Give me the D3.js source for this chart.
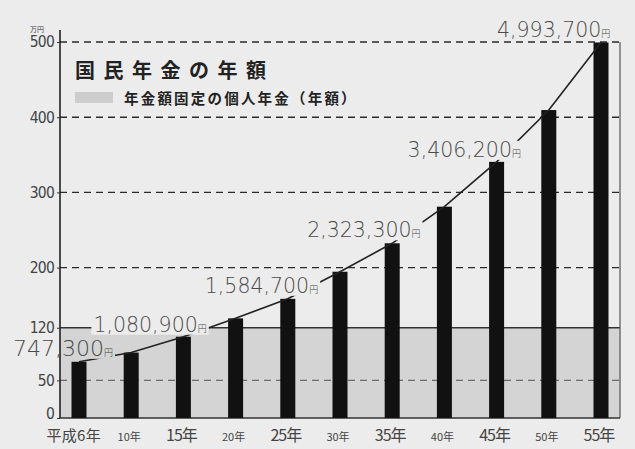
<!DOCTYPE html>
<html>
<head>
<meta charset="utf-8">
<script src="https://cdn.jsdelivr.net/npm/d3@7"></script>
<style>
  body { margin: 0; background: #ececec; }
  svg { display: block; }
</style>
</head>
<body>
<div id="viz"></div>
<script>
// data (万円)
const years = ["平成6年", "10年", "15年", "20年", "25年", "30年", "35年", "40年", "45年", "50年", "55年"];
const amounts = [74.73, 87, 108.09, 132.5, 158.47, 194.5, 232.33, 281, 340.62, 409.5, 499.37];
const smallYears = ["10年", "20年", "30年", "40年", "50年"];
const labelYears = ["平成6年", "15年", "25年", "35年", "45年", "55年"];
const labelTexts = ["747,300", "1,080,900", "1,584,700", "2,323,300", "3,406,200", "4,993,700"];
const yTicks = [0, 50, 120, 200, 300, 400, 500];
const dashedTicks = [50, 200, 300, 400, 500];
const fixedPension = 120;

const data = years.map((y, i) => ({ year: y, value: amounts[i] }));

const W = 635, H = 449;
const bg = "#ececec", shade = "#d3d4d3";

const svg = d3.select("#viz")
    .append("svg")
    .attr("width", W)
    .attr("height", H);

svg.append("rect").attr("width", W).attr("height", H).attr("fill", bg);

const left = 60, right = 620;

const y = d3.scaleLinear()
    .domain([0, 500])
    .range([418, 42]);

const x = d3.scalePoint()
    .domain(years)
    .range([79, 601]);

const barW = 15;

// shaded area: fixed personal pension
svg.append("rect")
    .attr("x", left)
    .attr("y", y(fixedPension))
    .attr("width", right - left)
    .attr("height", y(0) - y(fixedPension))
    .attr("fill", shade);

// dashed grid
svg.selectAll("line.grid")
    .data(dashedTicks)
    .enter()
    .append("line")
    .attr("class", "grid")
    .attr("x1", left)
    .attr("x2", right)
    .attr("y1", d => y(d))
    .attr("y2", d => y(d))
    .attr("stroke", d => d < fixedPension ? "#6a6a6a" : "#2a2a2a")
    .attr("stroke-width", 1.4)
    .attr("stroke-dasharray", "7,5");

// solid 120 line
svg.append("line")
    .attr("x1", left)
    .attr("x2", right)
    .attr("y1", y(fixedPension))
    .attr("y2", y(fixedPension))
    .attr("stroke", "#333")
    .attr("stroke-width", 1.3);

// right frame + bottom
svg.append("line")
    .attr("x1", right).attr("x2", right)
    .attr("y1", y(500)).attr("y2", y(0))
    .attr("stroke", "#555").attr("stroke-width", 1.2);

svg.append("line")
    .attr("x1", left).attr("x2", right)
    .attr("y1", y(0)).attr("y2", y(0))
    .attr("stroke", "#333").attr("stroke-width", 1.4);

// left axis
const yAxis = svg.append("g")
    .attr("transform", `translate(${left},0)`)
    .call(d3.axisLeft(y).tickValues(yTicks).tickSize(3).tickPadding(3));

yAxis.select(".domain")
    .attr("d", `M0,30V${y(0)}`)
    .attr("stroke", "#222")
    .attr("stroke-width", 1.6);

yAxis.selectAll(".tick line").attr("stroke", "#333");
yAxis.selectAll(".tick text")
    .attr("fill", "#444")
    .attr("dy", d => d === 0 ? "0.02em" : "0.32em")
    .style("font-family", "'Liberation Sans Narrow', 'DejaVu Sans Condensed', sans-serif")
    .style("font-size", "15.5px")
    .attr("letter-spacing", "-0.8");

svg.append("text")
    .attr("x", 30)
    .attr("y", 32)
    .attr("fill", "#444")
    .style("font-family", "'Noto Sans CJK JP', sans-serif")
    .style("font-size", "7px")
    .text("万円");

// bars
svg.selectAll("rect.bar")
    .data(data)
    .enter()
    .append("rect")
    .attr("class", "bar")
    .attr("x", d => x(d.year) - barW / 2)
    .attr("y", d => y(d.value))
    .attr("width", barW)
    .attr("height", d => y(0) - y(d.value))
    .attr("fill", "#111");

// trend line through bar tops
const line = d3.line()
    .x(d => x(d.year))
    .y(d => y(d.value));

svg.append("path")
    .datum(data)
    .attr("d", line)
    .attr("fill", "none")
    .attr("stroke", "#222")
    .attr("stroke-width", 1.6);

// x labels
svg.selectAll("text.xlab")
    .data(years)
    .enter()
    .append("text")
    .attr("class", "xlab")
    .attr("x", d => d === years[0] ? 101 : x(d) - 2)
    .attr("y", 441)
    .attr("text-anchor", d => d === years[0] ? "end" : "middle")
    .attr("fill", "#444")
    .style("font-family", "'Noto Sans CJK JP', sans-serif")
    .style("font-size", d => smallYears.includes(d) ? "11px" : (d === years[0] ? "15px" : "16px"))
    .attr("letter-spacing", d => smallYears.includes(d) ? "0" : (d === years[0] ? "0.3" : "-1"))
    .text(d => d);

// value labels: left edge / baseline relative to their bar top
const labelOffsets = [
    { dx: -66, dy: -6, size: 22 },
    { dx: -90, dy: -5, size: 20.5 },
    { dx: -83, dy: -6, size: 20.5 },
    { dx: -85, dy: -6, size: 20.5 },
    { dx: -89, dy: -5, size: 20.5 },
    { dx: -104, dy: -5, size: 20.5 }
];

const labels = labelYears.map((yr, i) => {
    const d = data.find(e => e.year === yr);
    return { text: labelTexts[i], cx: x(yr), cy: y(d.value), ...labelOffsets[i] };
});

const lg = svg.selectAll("g.vlab")
    .data(labels)
    .enter()
    .append("g")
    .attr("class", "vlab");

const lt = lg.append("text")
    .attr("x", d => d.cx + d.dx)
    .attr("y", d => d.cy + d.dy)
    .attr("fill", "#4a4a4a")
    .style("font-family", "'DejaVu Sans', sans-serif")
    .style("font-weight", "300");

lt.append("tspan")
    .style("font-size", d => d.size + "px")
    .text(d => d.text);
lt.append("tspan")
    .style("font-size", "9px")
    .style("font-family", "'Noto Sans CJK JP', sans-serif")
    .text("円");

// knock out the line behind labels (only inside the plot)
lg.each(function (d) {
    const t = d3.select(this).select("text");
    const b = t.node().getBBox();
    const pad = 2;
    const x0 = Math.max(b.x - pad, left + 1);
    d3.select(this).insert("rect", "text")
        .attr("x", x0)
        .attr("y", b.y + 3)
        .attr("width", b.x + b.width + pad - x0)
        .attr("height", b.height - 5)
        .attr("fill", d.cy + d.dy > y(fixedPension) + 4 ? shade : bg);
});

// title + legend
svg.append("text")
    .attr("x", 75)
    .attr("y", 78)
    .attr("fill", "#222")
    .style("font-family", "'Noto Sans CJK JP', sans-serif")
    .style("font-weight", "bold")
    .style("font-size", "20px")
    .attr("letter-spacing", "8.5")
    .text("国民年金の年額");

svg.append("rect")
    .attr("x", 75)
    .attr("y", 92)
    .attr("width", 38)
    .attr("height", 11)
    .attr("fill", "#cdcdcd");

svg.append("text")
    .attr("x", 124)
    .attr("y", 104)
    .attr("fill", "#222")
    .style("font-family", "'Noto Sans CJK JP', sans-serif")
    .style("font-weight", "bold")
    .style("font-size", "14.5px")
    .attr("letter-spacing", "2.2")
    .text("年金額固定の個人年金（年額）");
</script>
</body>
</html>
